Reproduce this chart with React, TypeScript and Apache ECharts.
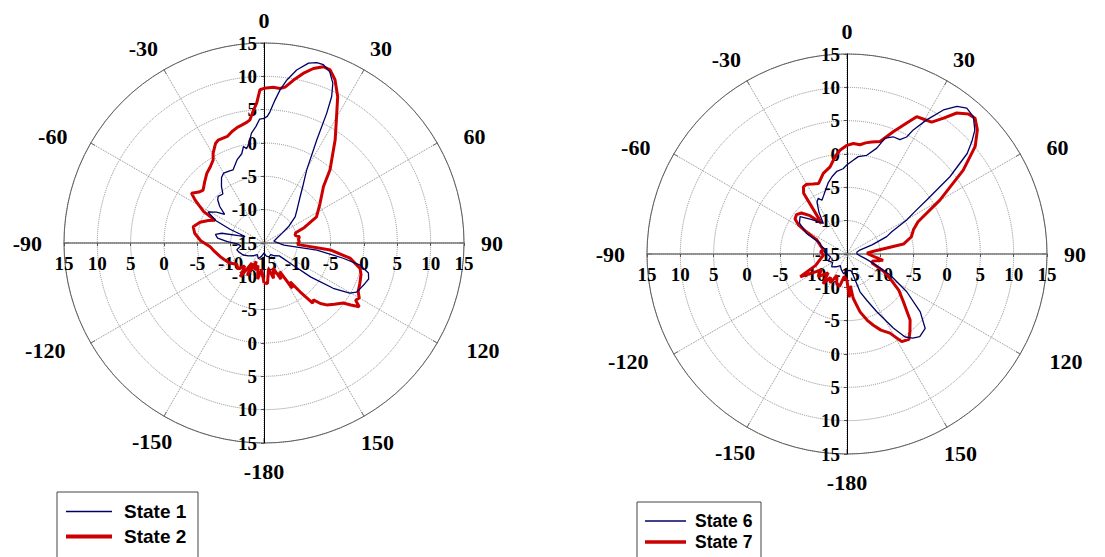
import React, { useEffect, useRef } from "react";
import * as echarts from "echarts";

// ---------- DATA (angle in degrees, value in dB) ----------
const state1Angle = [-180,-170,-160,-150,-140,-130,-120,-110,-104,-97,-92,-88,-84,-80,-77,-74,-71,-68,-65,-61,-57,-54,-50.5,-47,-44.5,-40,-37,-33,-30,-26,-23,-18,-14,-12,-10.5,-9,-6.5,-4,-2,0,1.5,2.6,4.4,6,8,10.7,13.9,16.3,18.4,21,23.3,24.8,25.8,27.1,30.3,34,38,44,50,56,62,70,80,88,93,96,97.6,100.9,103,106,109,112,115,118,120.3,123.2,126,127.5,130,140,150,160,170,180];
const state1Value = [-13.5,-13,-12.5,-13,-12.5,-12,-11.4,-11,-10.8,-11.5,-11,-9.5,-8,-7.6,-8.5,-11,-12,-9.5,-7,-5.4,-6.5,-7.7,-6.4,-5.5,-5.2,-5.4,-4.4,-3.3,-2.9,-3.0,-3.1,-1.9,-1.2,-0.2,-0.6,-0.1,1.6,2.5,3.6,3.7,4.0,4.7,6.5,8.1,9.7,11.4,12.8,13.2,13.2,12.5,11.1,9.2,6.6,2.4,-2.3,-4.5,-6.2,-7.8,-8.9,-10.5,-12,-13,-13.5,-13,-12.5,-12,-7,-2.9,-0.2,1.3,1.6,1.3,1.0,0.7,-0.1,-2.6,-6.3,-9.5,-12,-12.5,-13,-12.8,-13,-13.5];

const state2Angle = [-180,-175,-170,-165,-161,-157,-153,-149,-145,-140,-135,-128,-120,-112,-107,-100,-94,-88,-82,-77,-72,-68,-65,-62.5,-58,-55.5,-52,-49,-44,-39.5,-35,-31.5,-29.5,-26,-24,-19,-16,-13,-10.7,-8,-6.5,-4.5,-3,-1.5,0,3.4,5.9,7.7,10.2,13,15.8,18.6,20.9,23.5,26.7,29.3,34.6,42,46.5,54.7,63.5,69,72,76,80,84,88,91,93,96,100,104.8,108,112.8,117.3,120,122,123.8,125.5,127.2,131,134.7,137,139,141,143.5,146,148,151,155,160,165,170,175,180];
const state2Value = [-9,-11,-9.5,-11.5,-10.7,-12,-9.5,-11.5,-8.8,-10.5,-9.5,-9.8,-9,-8.5,-8.1,-7.5,-6.9,-5.5,-4.5,-4.1,-4.9,-6,-6.9,-4.8,-2.8,-1.8,-2.6,-2.9,-2.2,-1.5,-1.0,-0.4,0.5,1.6,1.9,1.9,2.4,2.8,3.0,3.3,3.6,5.0,6.0,8.0,8.2,8.4,8.3,8.6,9.8,11.1,12.2,12.9,12.8,11.7,9.6,7.3,3.8,-0.2,-2.7,-4.7,-6.2,-8.5,-10,-10.2,-9.6,-9.8,-9.7,-10,-9.6,-5,-1.9,-0.1,0.3,0.6,0.9,1.5,1.2,2.2,1.0,-0.1,-1.0,-1.8,-2.6,-3.7,-3.4,-5.9,-8,-7,-10.1,-9,-11,-9.5,-11.1,-8.9,-9];

const state6Angle = [-180,-170,-160,-150,-140,-130,-120,-110,-100,-90,-84,-79,-74,-68,-63,-57,-51.5,-46,-41,-37.7,-34,-30,-27.3,-25,-22,-19.5,-15,-11,-7,-2.6,0,3.8,6.6,11.3,15.7,18.2,21.5,24.8,27,28.1,30.7,33.8,36.7,39.4,42.6,45.9,48,50.1,53.1,55.9,58,60.3,63.5,66.4,70,73,80,90,98,105,109.5,116,122.3,128.3,133.6,138.6,142,145,148,152.8,157,161,165,170,180];
const state6Value = [-12.5,-12,-12.5,-13,-12.5,-12,-12.5,-12,-12.5,-12,-11.5,-11.9,-11,-10.6,-8.2,-6.5,-6,-7.5,-8.6,-9.2,-7.5,-6,-5.6,-6.1,-5.6,-5.1,-4,-3.2,-2.5,-2.2,-1.6,-0.9,-0.3,0.1,1.5,3.3,3.9,3.9,4.7,6.1,8.4,11,12.6,13.3,13,11.7,10.2,8.5,4.3,-0.6,-3,-4.7,-7.5,-8.5,-11,-13,-13.5,-13.5,-13,-12,-10.8,-7.8,-4.4,-1,1.2,1.5,1.0,0.2,-1.9,-5.3,-7.5,-9,-12.3,-12.5,-12.5];

const state7Angle = [-180,-173,-167,-160.6,-155,-150,-145,-141,-135,-128,-122,-116,-110,-100,-92,-85,-80,-72,-65,-61.5,-59,-56,-52,-48,-44,-39.5,-35.5,-33,-30,-26,-22,-16.4,-11,-7,-3.9,0,3.3,6.8,9.5,12.4,16.4,20.7,24.5,26.9,30.2,32.7,35.4,37.9,40.9,43.3,46.4,50,54.2,59.9,65.6,70,75,80,84,88,95,100,105,110,115,119.5,125,130.3,136.3,141,144,148,151.5,156,159.7,163,167.3,170,172,174,177,180];
const state7Value = [-11,-11.6,-10,-10.3,-11.5,-10,-10.7,-9.3,-11,-9.5,-10.5,-7.2,-10,-11,-11.5,-11,-11.4,-10.8,-10,-8.1,-6.5,-5.6,-5.4,-5.8,-7,-9.0,-3.8,-3.0,-2.9,-3.3,-3.6,-2.4,-1.7,-0.3,0.6,1.3,1.6,1.5,1.9,2.2,2.6,4.6,6.6,8.1,8.3,8.5,10,11.8,12.8,13,12,10.1,6.5,1.1,-3.3,-4.4,-5,-6.4,-11,-12,-11,-9.5,-11,-11,-9,-7.6,-5.5,-3.9,-1.3,0,0.8,0.5,-1.5,-2.5,-3.6,-4.6,-6.1,-7.5,-8.3,-10.2,-8.5,-11];

const angleTicks = [-180, -150, -120, -90, -60, -30, 0, 30, 60, 90, 120, 150, 180];
const leftNames = ["State 1", "State 2"];
const rightNames = ["State 6", "State 7"];

const pair = (angles: number[], values: number[]) => angles.map((a, i) => [values[i], a]);

const SERIF = "'Liberation Serif', 'Times New Roman', serif";
const SANS = "'Liberation Sans', Arial, sans-serif";
const BLUE = "#000066";
const RED = "#cc0000";
const THIN_ICON = "path://M0,0H46V1.6H0Z";
const THICK_ICON = "path://M0,0H46V4.2H0Z";
const ANG_FONT = 22;

const base = { fontFamily: SERIF, fontWeight: "bold", fontSize: ANG_FONT, color: "#000" };
const angleRich: any = {
  p0: { ...base },
  p30: { ...base },
  p60: { ...base, padding: [0, 0, 0, 16], lineHeight: 2 },
  p90: { ...base, padding: [0, 0, 0, 5] },
  p120: { ...base, padding: [0, 0, 0, 19], lineHeight: 2 },
  p150: { ...base, padding: [5, 0, 0, 0], width: 24, align: "right" },
  m180: { ...base, padding: [5, 0, 0, 0] },
  m150: { ...base, padding: [4, 0, 0, 0], width: 26, align: "left" },
  m120: { ...base, padding: [0, 15, 0, 0], lineHeight: 2 },
  m90: { ...base, padding: [0, 10, 0, 0] },
  m60: { ...base, padding: [0, 13, 0, 0], lineHeight: 2 },
  m30: { ...base },
};
const angleKey = (v: number) => (v < 0 ? "m" : "p") + Math.abs(v);

function polarAxes(idx: number) {
  return {
    angle: {
      polarIndex: idx,
      type: "value",
      min: angleTicks[0],
      max: angleTicks[angleTicks.length - 1],
      interval: 30,
      startAngle: 270,
      clockwise: true,
      axisLine: { show: true, lineStyle: { color: "#5f5f5f", width: 1 } },
      axisTick: { show: true, inside: true, length: 5, lineStyle: { color: "#5f5f5f" } },
      splitLine: { show: true, lineStyle: { color: "#8c8c8c", type: "dotted", width: 1 } },
      axisLabel: {
        show: true,
        margin: 12,
        color: "#000",
        fontFamily: SERIF,
        fontWeight: "bold",
        fontSize: ANG_FONT,
        rich: angleRich,
        formatter: (v: number) => (v === 180 ? "" : `{${angleKey(v)}|${v}}`),
      },
    },
    radius: {
      polarIndex: idx,
      type: "value",
      min: -15,
      max: 15,
      interval: 5,
      axisLine: { show: false },
      axisTick: { show: false },
      axisLabel: { show: false },
      splitLine: { show: true, lineStyle: { color: "#8c8c8c", type: "dotted", width: 1 } },
    },
  };
}

function cartAxis(idx: number, isX: boolean) {
  return {
    gridIndex: idx,
    type: "value",
    position: isX ? "bottom" : "left",
    offset: -200,
    min: -30,
    max: 30,
    interval: 5,
    axisLine: {
      show: true,
      onZero: false,
      lineStyle: isX ? { color: "#7a7a7a", width: 1.5 } : { color: "#000", width: 1 },
    },
    axisTick: { show: true, length: 3, lineStyle: { color: "#555" } },
    splitLine: { show: false },
    axisLabel: {
      show: true,
      margin: isX ? 11 : 7,
      color: "#000",
      fontFamily: SERIF,
      fontWeight: "bold",
      fontSize: 19,
      showMinLabel: true,
      showMaxLabel: true,
      hideOverlap: false,
      formatter: (v: number) => String(Math.abs(v) - 15),
    },
    z: 1,
  };
}

export default function App() {
  const ref = useRef<HTMLDivElement>(null);
  useEffect(() => {
    if (!ref.current) return;
    const chart = echarts.init(ref.current, undefined, { renderer: "svg" });
    const p0 = polarAxes(0);
    const p1 = polarAxes(1);
    const option: any = {
      animation: false,
      backgroundColor: "#ffffff",
      textStyle: { fontFamily: SERIF },
      polar: [
        { center: [264, 243], radius: 200 },
        { center: [847, 254], radius: 200 },
      ],
      angleAxis: [p0.angle, p1.angle],
      radiusAxis: [p0.radius, p1.radius],
      grid: [
        { left: 64, top: 43, width: 400, height: 400 },
        { left: 647, top: 54, width: 400, height: 400 },
      ],
      xAxis: [cartAxis(0, true), cartAxis(1, true)],
      yAxis: [cartAxis(0, false), cartAxis(1, false)],
      graphic: [
        {
          type: "rect",
          shape: { x: 57, y: 492, width: 141, height: 90 },
          style: { fill: "none", stroke: "#444", lineWidth: 1 },
          silent: true,
        },
        {
          type: "rect",
          shape: { x: 637, y: 502, width: 124, height: 80 },
          style: { fill: "none", stroke: "#444", lineWidth: 1 },
          silent: true,
        },
      ],
      legend: [
        {
          data: [
            { name: leftNames[0], icon: THIN_ICON },
            { name: leftNames[1], icon: THICK_ICON },
          ],
          orient: "vertical",
          left: 66,
          top: 502,
          padding: 0,
          itemGap: 6,
          itemWidth: 46,
          itemHeight: 14,
          textStyle: { fontFamily: SANS, fontWeight: "bold", fontSize: 19, color: "#000", padding: [0, 0, 0, 7] },
        },
        {
          data: [
            { name: rightNames[0], icon: THIN_ICON },
            { name: rightNames[1], icon: THICK_ICON },
          ],
          orient: "vertical",
          left: 645,
          top: 512,
          padding: 0,
          itemGap: 3,
          itemWidth: 41,
          itemHeight: 14,
          textStyle: { fontFamily: SANS, fontWeight: "bold", fontSize: 17.5, color: "#000", padding: [0, 0, 0, 4] },
        },
      ],
      series: [
        {
          name: leftNames[0], type: "line", coordinateSystem: "polar", polarIndex: 0,
          data: pair(state1Angle, state1Value), symbol: "none", smooth: false,
          lineStyle: { color: BLUE, width: 1.3 }, itemStyle: { color: BLUE }, z: 4,
        },
        {
          name: leftNames[1], type: "line", coordinateSystem: "polar", polarIndex: 0,
          data: pair(state2Angle, state2Value), symbol: "none", smooth: false,
          lineStyle: { color: RED, width: 3 }, itemStyle: { color: RED }, z: 3,
        },
        {
          name: rightNames[0], type: "line", coordinateSystem: "polar", polarIndex: 1,
          data: pair(state6Angle, state6Value), symbol: "none", smooth: false,
          lineStyle: { color: BLUE, width: 1.3 }, itemStyle: { color: BLUE }, z: 4,
        },
        {
          name: rightNames[1], type: "line", coordinateSystem: "polar", polarIndex: 1,
          data: pair(state7Angle, state7Value), symbol: "none", smooth: false,
          lineStyle: { color: RED, width: 3 }, itemStyle: { color: RED }, z: 3,
        },
      ],
    };
    chart.setOption(option);
    return () => chart.dispose();
  }, []);
  return (
    <div
      ref={ref}
      style={{ position: "fixed", left: 0, top: 0, width: 1105, height: 557, background: "#fff" }}
    />
  );
}
